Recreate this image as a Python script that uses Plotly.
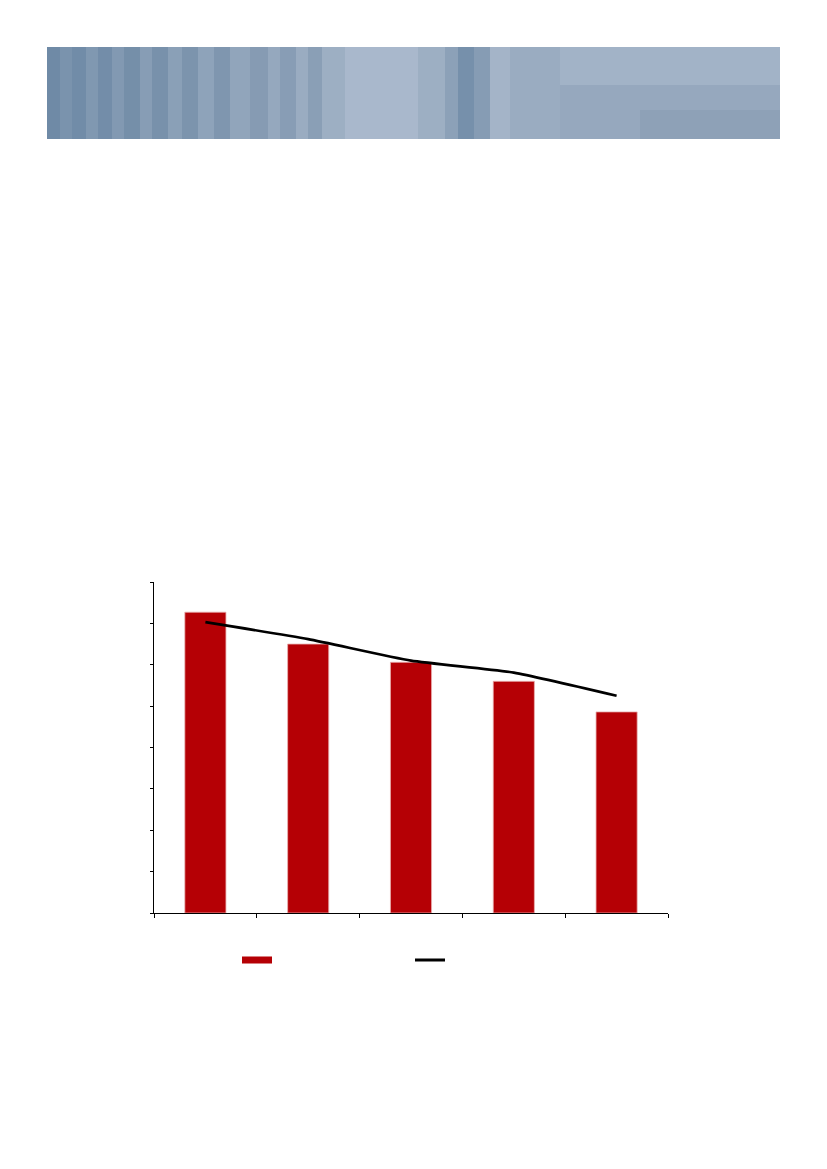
import plotly.graph_objects as go

W, H = 827, 1169
PAGE_PAD = 8  # the page body adds 8px around the figure

# chart data (y axis 0..8)
categories = ["1", "2", "3", "4", "5"]
bar_values = [7.27, 6.50, 6.06, 5.60, 4.86]
line_values = [7.03, 6.62, 6.10, 5.81, 5.25]
bar_name = " "
line_name = "  "

BAR_RED = "#b50005"


def px_x(x):
    return (x - PAGE_PAD) / W


def px_y(y):
    return 1 - (y - PAGE_PAD) / H


fig = go.Figure()

fig.add_trace(go.Bar(
    x=categories, y=bar_values, width=0.4, name=bar_name,
    marker=dict(color=BAR_RED, line=dict(color="#e8b0b0", width=0.8)),
    showlegend=False,
))
fig.add_trace(go.Scatter(
    x=categories, y=line_values, name=line_name, mode="lines",
    line=dict(color="black", width=2.6, shape="spline", smoothing=0.5),
    showlegend=False,
))

# legend entries (red strip for the bars, black line for the line)
fig.add_trace(go.Scatter(x=[None], y=[None], mode="lines", name=bar_name,
                         line=dict(color=BAR_RED, width=7)))
fig.add_trace(go.Scatter(x=[None], y=[None], mode="lines", name=line_name,
                         line=dict(color="black", width=3)))

# banner at the top of the page: blurred blue-grey stripes
shapes = [dict(type="rect", xref="paper", yref="paper",
               x0=px_x(47), x1=px_x(780), y0=px_y(139), y1=px_y(47),
               fillcolor="#96a8be", line=dict(width=0), layer="below")]
stripes = [
    (47, 60, "#6f8aa6"), (60, 72, "#7a93ad"), (72, 86, "#718ca8"), (86, 98, "#8098b1"),
    (98, 112, "#738da9"), (112, 124, "#8299b2"), (124, 140, "#758fa9"), (140, 152, "#879db5"),
    (152, 168, "#7891ab"), (168, 182, "#8aa0b7"), (182, 198, "#7c94ad"), (198, 214, "#8ea3ba"),
    (214, 230, "#7f96af"), (230, 250, "#91a5bb"), (250, 268, "#869bb3"), (268, 280, "#95a8be"),
    (280, 296, "#889db5"), (296, 308, "#9aacc1"), (308, 322, "#8a9fb6"), (322, 345, "#9dafc3"),
    (345, 418, "#a9b8cc"), (418, 445, "#9dafc3"), (445, 458, "#8ca1b8"), (458, 474, "#7690ab"),
    (474, 490, "#869cb4"), (490, 510, "#a4b4c8"), (510, 560, "#9aacc1"),
]
for x0, x1, c in stripes:
    shapes.append(dict(type="rect", xref="paper", yref="paper",
                       x0=px_x(x0), x1=px_x(x1), y0=px_y(139), y1=px_y(47),
                       fillcolor=c, line=dict(width=0), layer="below"))
# lighter top / darker bottom on the right half
shapes.append(dict(type="rect", xref="paper", yref="paper",
                   x0=px_x(560), x1=px_x(780), y0=px_y(85), y1=px_y(47),
                   fillcolor="rgba(170,186,205,0.6)", line=dict(width=0), layer="below"))
shapes.append(dict(type="rect", xref="paper", yref="paper",
                   x0=px_x(640), x1=px_x(780), y0=px_y(139), y1=px_y(110),
                   fillcolor="rgba(125,145,170,0.3)", line=dict(width=0), layer="below"))

fig.update_layout(
    width=W, height=H,
    margin=dict(l=0, r=0, t=0, b=0),
    paper_bgcolor="white", plot_bgcolor="white",
    shapes=shapes,
    font=dict(family="Liberation Sans", size=11, color="black"),
    legend=dict(orientation="h", x=px_x(237), y=px_y(960), xanchor="left", yanchor="middle",
                entrywidth=128, entrywidthmode="pixels", bgcolor="rgba(0,0,0,0)",
                itemclick=False, traceorder="normal"),
    bargap=0.6,
)
fig.update_xaxes(
    domain=[px_x(154), px_x(668)], range=[-0.5, 4.5],
    showline=True, linecolor="black", linewidth=1.3,
    ticks="outside", ticklen=4, tickcolor="black", tickwidth=1.3, tickson="boundaries",
    showticklabels=False, showgrid=False, zeroline=False,
)
fig.update_yaxes(
    domain=[px_y(913), px_y(582)], range=[0, 8], dtick=1,
    showline=True, linecolor="black", linewidth=1.3,
    ticks="outside", ticklen=3, tickcolor="black", tickwidth=1.3,
    showticklabels=False, showgrid=False, zeroline=False,
)

fig.write_html("out.html")
